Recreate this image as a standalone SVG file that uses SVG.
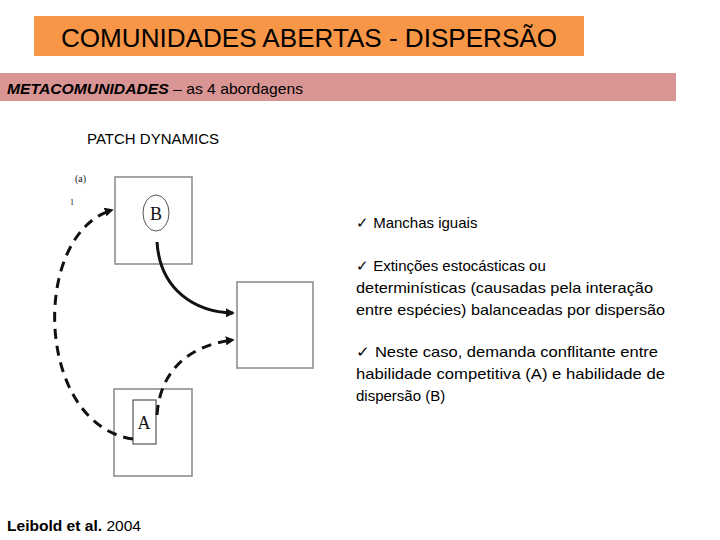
<svg xmlns="http://www.w3.org/2000/svg" width="720" height="540" viewBox="0 0 720 540">
<style>
.cal{font-family:"Liberation Sans",Arial,sans-serif;fill:#000}
.ser{font-family:"Liberation Serif","Times New Roman",serif;fill:#111}
.box{fill:#fff;stroke:#888;stroke-width:1.5}
.dash{fill:none;stroke:#111;stroke-width:3;stroke-dasharray:10 7}
.solid{fill:none;stroke:#111;stroke-width:3}
</style>
<defs>
<marker id="ah" viewBox="0 0 10 10" refX="8" refY="5" markerWidth="3" markerHeight="3" orient="auto" markerUnits="strokeWidth">
<path d="M0,0 L10,5 L0,10 z" fill="#111"/>
</marker>
</defs>
<rect width="720" height="540" fill="#fff"/>
<g id="title">
<rect x="34" y="16" width="550" height="40" fill="#F79646"/>
<text class="cal" x="309" y="47" font-size="26" text-anchor="middle" textLength="496" lengthAdjust="spacingAndGlyphs">COMUNIDADES ABERTAS - DISPERSÃO</text>
</g>
<g id="subtitle">
<rect x="0" y="73" width="676" height="28" fill="#D99594"/>
<text class="cal" x="7" y="94" font-size="15" textLength="296" lengthAdjust="spacingAndGlyphs"><tspan font-weight="bold" font-style="italic">METACOMUNIDADES</tspan> – as 4 abordagens</text>
</g>
<text class="cal" x="87" y="144" font-size="14" textLength="132" lengthAdjust="spacingAndGlyphs">PATCH DYNAMICS</text>
<text class="ser" x="75" y="182" font-size="10" fill="#444">(a)</text>
<text class="ser" x="70" y="205" font-size="8" fill="#666">1</text>
<g id="patchB">
<rect class="box" x="115" y="177" width="77" height="87"/>
<ellipse cx="156" cy="213" rx="13" ry="18" fill="none" stroke="#555" stroke-width="1"/>
<text class="ser" x="156" y="220" font-size="18" text-anchor="middle">B</text>
</g>
<g id="patchEmpty">
<rect class="box" x="237" y="282" width="76" height="86"/>
</g>
<g id="patchA">
<rect class="box" x="114" y="389" width="78" height="87"/>
<rect x="133" y="400" width="23" height="44" fill="#fff" stroke="#333" stroke-width="1"/>
<text class="ser" x="144" y="429" font-size="18" text-anchor="middle">A</text>
</g>
<g id="connectors">
<path class="solid" d="M157,242 C160,290 195,312 233,313" marker-end="url(#ah)"/>
<path class="dash" d="M157,415 C160,370 190,345 233,340" marker-end="url(#ah)"/>
<path class="dash" d="M133,439 C35,425 30,235 112,210" marker-end="url(#ah)"/>
</g>
<g id="bullets" class="cal" font-size="15">
<text x="356" y="228">✓ Manchas iguais</text>
<text x="356" y="271">✓ Extinções estocásticas ou</text>
<text x="356" y="293" textLength="297" lengthAdjust="spacingAndGlyphs">determinísticas (causadas pela interação</text>
<text x="356" y="315" textLength="309" lengthAdjust="spacingAndGlyphs">entre espécies) balanceadas por dispersão</text>
<text x="356" y="357" textLength="302" lengthAdjust="spacingAndGlyphs">✓ Neste caso, demanda conflitante entre</text>
<text x="356" y="379" textLength="309" lengthAdjust="spacingAndGlyphs">habilidade competitiva (A) e habilidade de</text>
<text x="356" y="401">dispersão (B)</text>
</g>
<text class="cal" x="7" y="531" font-size="15" textLength="134" lengthAdjust="spacingAndGlyphs"><tspan font-weight="bold">Leibold et al.</tspan> 2004</text>
</svg>
